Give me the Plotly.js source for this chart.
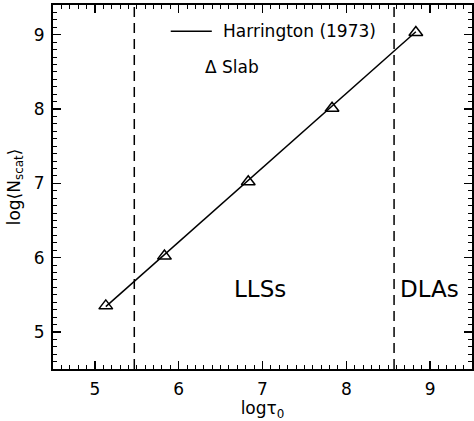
<!DOCTYPE html>
<html>
<head>
<meta charset="utf-8">
<script src="https://cdn.plot.ly/plotly-3.0.1.min.js"></script>
<style>
  html, body { margin: 0; padding: 0; background: #fff; }
  #chart { width: 474px; height: 421px; }
</style>
</head>
<body>
<div id="chart"></div>
<script>
// Slab simulation results: mean number of scatterings vs line-centre optical depth
const logTau = [5.13, 5.83, 6.83, 7.83, 8.83];
const logNscat = [5.35, 6.02, 7.02, 8.01, 9.03];

// Harrington (1973) analytic relation, end points of the straight line
const harrX = [5.13, 8.83];
const harrY = [5.34, 9.04];

// Column-density boundaries of the absorber classes (in log tau_0)
const llsEdge = 5.47;
const dlaEdge = 8.57;

const regionLabels = ['LLSs', 'DLAs'];
const regionX = [6.97, 8.99];
const regionY = [5.58, 5.58];

const xTicks = [5, 6, 7, 8, 9];
const yTicks = [5, 6, 7, 8, 9];

const FONT = 'DejaVu Sans, Verdana, sans-serif';

const traces = [
  {
    x: harrX, y: harrY, mode: 'lines', type: 'scatter',
    line: { color: '#000', width: 1.5 }, hoverinfo: 'skip'
  },
  {
    x: logTau, y: logNscat, mode: 'markers', type: 'scatter',
    marker: { symbol: 'triangle-up-open', size: 12, color: '#000', line: { width: 1.5, color: '#000' } }
  }
];

const axisCommon = {
  showgrid: false, zeroline: false,
  showline: true, linecolor: '#000', linewidth: 2,
  mirror: 'allticks', ticks: 'inside', ticklen: 8, tickwidth: 1.5, tickcolor: '#000',
  tickfont: { family: FONT, size: 17, color: '#000' },
  minor: { dtick: 0.1, ticks: 'inside', ticklen: 4, tickwidth: 1, tickcolor: '#000' }
};

const dashLine = (x) => ({
  type: 'line', xref: 'x', yref: 'paper', x0: x, x1: x, y0: 0, y1: 1,
  line: { color: '#000', width: 1.5, dash: '10px,6px' }
});

const layout = {
  width: 474, height: 421,
  margin: { l: 52.5, r: 1.5, t: 4.5, b: 52 },
  paper_bgcolor: '#fff', plot_bgcolor: '#fff',
  showlegend: false,
  font: { family: FONT, color: '#000' },
  xaxis: Object.assign({}, axisCommon, {
    range: [4.5, 9.5], tickvals: xTicks, ticktext: xTicks.map(String),
    ticklabelstandoff: 4,
    title: { text: 'logτ<sub>0</sub>', font: { family: FONT, size: 17, color: '#000' }, standoff: 8 }
  }),
  yaxis: Object.assign({}, axisCommon, {
    range: [4.5, 9.4], tickvals: yTicks, ticktext: yTicks.map(String),
    ticklabelstandoff: 3,
    title: { text: 'log⟨N<sub>scat</sub>⟩', font: { family: FONT, size: 17, color: '#000' }, standoff: 9 }
  }),
  shapes: [
    dashLine(llsEdge), dashLine(dlaEdge),
    // legend sample line
    { type: 'line', xref: 'paper', yref: 'paper', x0: 0.281, x1: 0.379, y0: 0.928, y1: 0.928,
      line: { color: '#000', width: 1.5 } }
  ],
  annotations: [
    { text: 'Harrington (1973)', xref: 'paper', yref: 'paper', x: 0.401, y: 0.928,
      xanchor: 'left', yanchor: 'middle', showarrow: false, font: { family: FONT, size: 17, color: '#000' } },
    { text: 'Δ Slab', xref: 'paper', yref: 'paper', x: 0.359, y: 0.829,
      xanchor: 'left', yanchor: 'middle', showarrow: false, font: { family: FONT, size: 17, color: '#000' } }
  ].concat(regionLabels.map((t, i) => ({
    text: t, xref: 'x', yref: 'y', x: regionX[i], y: regionY[i],
    xanchor: 'center', yanchor: 'middle', showarrow: false,
    font: { family: FONT, size: 23, color: '#000' }
  })))
};

Plotly.newPlot('chart', traces, layout, { displayModeBar: false, staticPlot: true });
</script>
</body>
</html>
